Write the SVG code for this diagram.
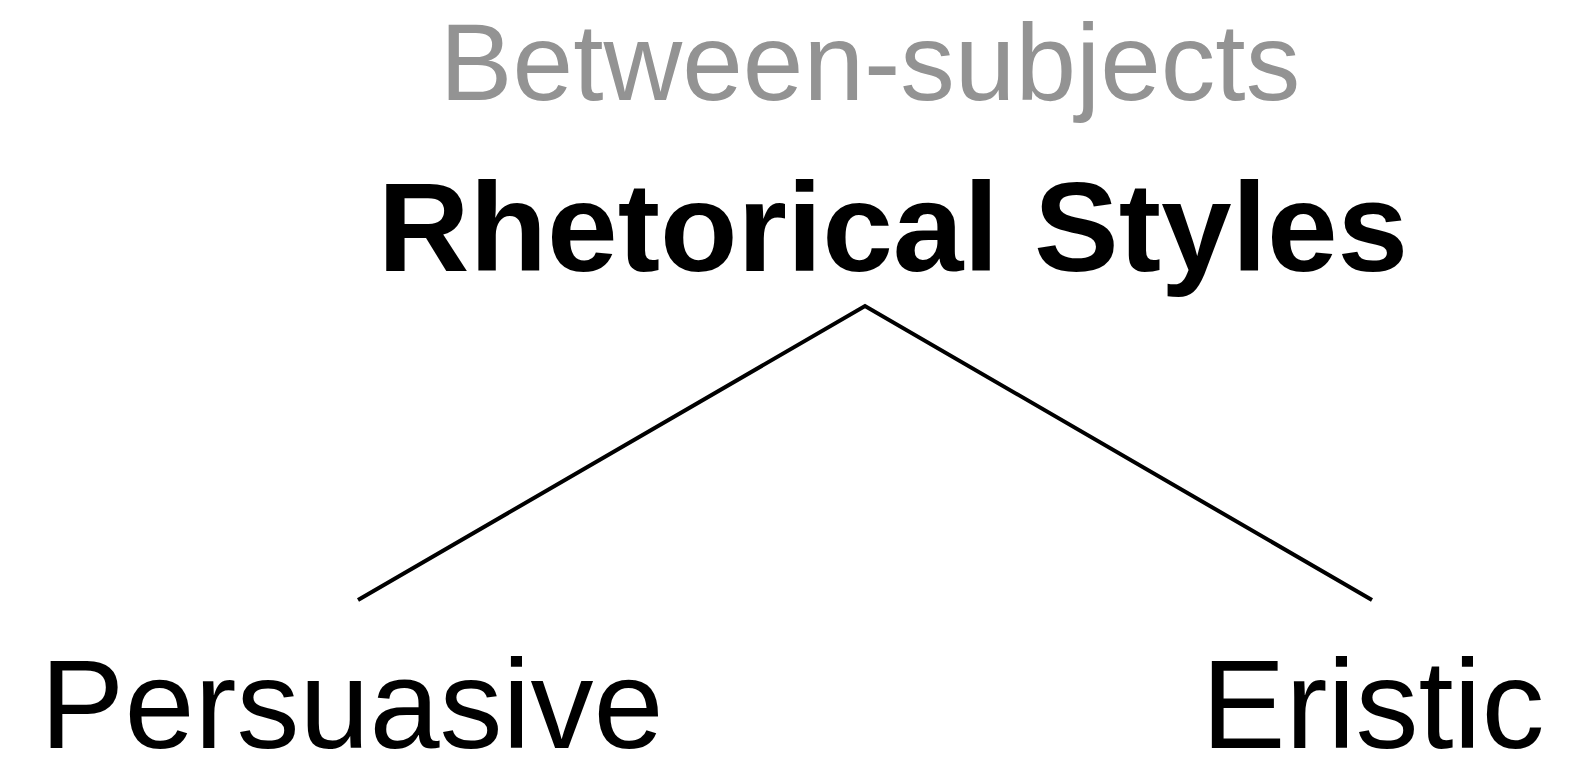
<svg xmlns="http://www.w3.org/2000/svg" width="1573" height="760" viewBox="0 0 1573 760">
<style>
.t{font-family:"Liberation Sans",Arial,Helvetica,sans-serif;}
.sub{fill:#939393;font-size:109px;}
.title{fill:#000;font-size:127px;font-weight:bold;}
.leaf{fill:#000;font-size:126px;}
.edge{stroke:#000;stroke-width:4;fill:none;}
</style>
<rect width="1573" height="760" fill="#fff"/>
<g id="subtitle"><text class="t sub" x="870" y="100" text-anchor="middle">Between-subjects</text></g>
<g id="root"><text class="t title" x="893" y="271" text-anchor="middle">Rhetorical Styles</text></g>
<g id="connectors">
<polyline class="edge" points="358,600 865,306 1372,600"/>
</g>
<g id="persuasive"><text class="t leaf" x="352" y="748" text-anchor="middle">Persuasive</text></g>
<g id="eristic"><text class="t leaf" x="1373" y="748" text-anchor="middle">Eristic</text></g>
</svg>
